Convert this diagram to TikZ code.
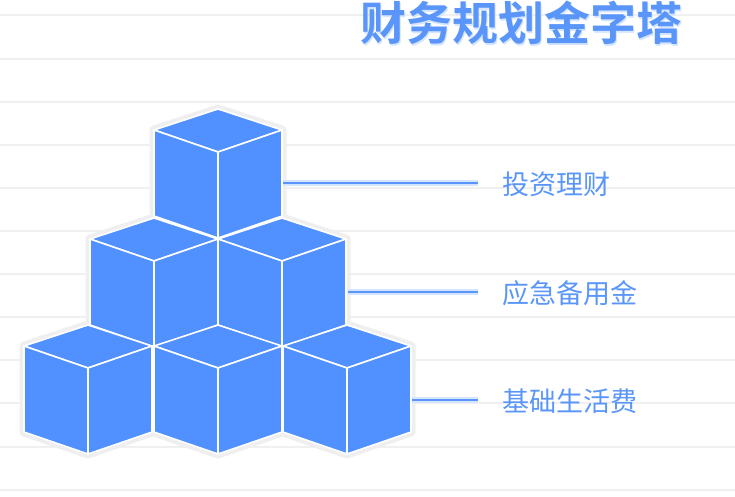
\documentclass[tikz,border=0pt]{standalone}
\usepackage{fontspec}
\newfontfamily\cjk{Noto Sans CJK SC}
\newfontfamily\cjkb{Noto Sans CJK SC Bold}
\definecolor{cube}{HTML}{5090FF}
\definecolor{halo}{HTML}{EFEFEF}
\definecolor{grid}{HTML}{F0F0F0}
\definecolor{lab}{HTML}{5A96FA}
\tikzset{
 lbl/.style={anchor=west,font=\cjk\fontsize{27}{27}\selectfont,text=lab,inner sep=0pt},
 lead/.style={draw=lab,line width=2pt},
 leadglow/.style={draw=lab!25,line width=6pt},
 face/.style={fill=cube,draw=white,line width=1.6pt,line join=round},
}
\newcommand\cubehalo[2]{%
 \draw[halo,line width=9pt,line join=round,fill=halo] (#1,#2)--++(64,21)--++(0,86)--++(-64,22)--++(-64,-22)--++(0,-86)--cycle;}
\newcommand\cubedraw[2]{%
 \draw[face] (#1,#2)--++(64,21)--++(-64,22)--++(-64,-22)--cycle;
 \draw[face] (#1-64,#2+21)--++(64,22)--++(0,86)--++(-64,-22)--cycle;
 \draw[face] (#1+64,#2+21)--++(-64,22)--++(0,86)--++(64,-22)--cycle;}
\begin{document}
\begin{tikzpicture}[x=1pt,y=-1pt]
\useasboundingbox (0,0) rectangle (735,496);
\foreach \yy in {15,59,102,145,188,231,274,317,360,403,447,490}
 \draw[grid,line width=1.2pt] (0,\yy)--(735,\yy);
\node[font=\cjkb\fontsize{46}{46}\selectfont,text=lab!25] (t0) at (522.5,24.5) {财务规划金字塔};
\node[font=\cjkb\fontsize{46}{46}\selectfont,text=lab] (title) at (521,23) {财务规划金字塔};
\foreach \cx/\cy in {218/109,154/218,282/218,88/325,218/325,347/325} {\cubehalo{\cx}{\cy}}
\foreach \cx/\cy in {218/109,154/218,282/218,88/325,218/325,347/325} {\cubedraw{\cx}{\cy}}
\coordinate (a1) at (283,183); \coordinate (b1) at (478,183);
\coordinate (a2) at (348,292); \coordinate (b2) at (478,292);
\coordinate (a3) at (412,400); \coordinate (b3) at (478,400);
\foreach \i in {1,2,3} {\draw[leadglow] (a\i)--(b\i); \draw[lead] (a\i)--(b\i);}
\node[lbl] (l1) at (502,184) {投资理财};
\node[lbl] (l2) at (502,293) {应急备用金};
\node[lbl] (l3) at (502,401) {基础生活费};
\end{tikzpicture}
\end{document}
